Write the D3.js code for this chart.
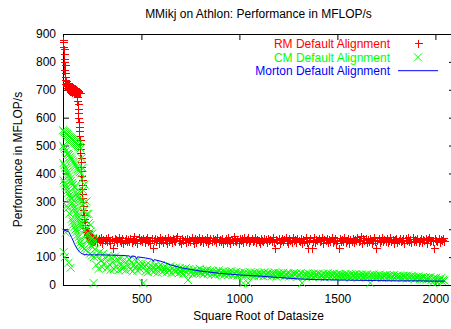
<!DOCTYPE html>
<html>
<head>
<meta charset="utf-8">
<script src="https://cdn.jsdelivr.net/npm/d3@7"></script>
<style>
  html, body { margin: 0; padding: 0; background: #fff; }
  svg { display: block; }
  text { font-family: "Liberation Sans", Arial, Helvetica, sans-serif; }
</style>
</head>
<body>
<svg id="chart" width="451" height="329"></svg>
<script>
// Square root of the matrix data size at each measured run
const sizes = [
  100,101,102,103,104,105,106,107,108,109,
  110,111,112,113,114,115,116,117,118,119,
  120,121,122,123,124,125,126,127,128,129,
  130,131,132,133,134,135,136,137,138,139,
  140,141,142,143,144,145,146,147,148,149,
  150,151,152,153,154,155,156,157,158,159,
  160,161,162,163,164,165,166,167,168,169,
  170,171,172,173,174,175,176,177,178,179,
  180,181,182,183,184,185,186,187,188,189,
  190,191,192,193,194,195,196,197,198,199,
  200,202,204,206,208,210,212,214,216,218,
  220,222,224,226,228,230,232,234,236,238,
  240,242,244,246,248,250,252,254,256,258,
  260,
  264,270,276,282,288,294,300,306,312,318,
  324,330,336,342,348,354,360,366,372,378,
  384,390,396,402,408,414,420,426,432,438,
  444,450,456,462,468,474,480,486,492,498,
  504,510,516,522,528,534,540,546,552,558,
  564,570,576,582,588,594,600,606,612,618,
  624,630,636,642,648,654,660,666,672,678,
  684,690,696,702,708,714,720,726,732,738,
  744,750,756,762,768,774,780,786,792,798,
  804,810,816,822,828,834,840,846,852,858,
  864,870,876,882,888,894,900,906,912,918,
  924,930,936,942,948,954,960,966,972,978,
  984,990,996,1002,1008,1014,1020,1026,1032,1038,
  1044,1050,1056,1062,1068,1074,1080,1086,1092,1098,
  1104,1110,1116,1122,1128,1134,1140,1146,1152,1158,
  1164,1170,1176,1182,1188,1194,1200,1206,1212,1218,
  1224,1230,1236,1242,1248,1254,1260,1266,1272,1278,
  1284,1290,1296,1302,1308,1314,1320,1326,1332,1338,
  1344,1350,1356,1362,1368,1374,1380,1386,1392,1398,
  1404,1410,1416,1422,1428,1434,1440,1446,1452,1458,
  1464,1470,1476,1482,1488,1494,1500,1506,1512,1518,
  1524,1530,1536,1542,1548,1554,1560,1566,1572,1578,
  1584,1590,1596,1602,1608,1614,1620,1626,1632,1638,
  1644,1650,1656,1662,1668,1674,1680,1686,1692,1698,
  1704,1710,1716,1722,1728,1734,1740,1746,1752,1758,
  1764,1770,1776,1782,1788,1794,1800,1806,1812,1818,
  1824,1830,1836,1842,1848,1854,1860,1866,1872,1878,
  1884,1890,1896,1902,1908,1914,1920,1926,1932,1938,
  1944,1950,1956,1962,1968,1974,1980,1986,1992,1998,
  2004,2010,2016,2022,2028,2034,2040,2046
];

// MFLOP/s, row-major layout
const rmValues = [
  880,870,855,800,845,828,770,812,735,760,
  790,722,745,718,730,712,726,720,708,716,
  722,712,705,718,710,724,702,716,706,712,
  700,719,709,698,711,703,715,696,708,712,
  700,694,709,706,698,713,692,702,705,697,
  710,695,703,700,692,707,698,704,690,701,
  696,706,693,699,688,703,697,692,700,694,
  688,675,699,660,648,695,632,615,692,600,
  585,690,568,552,536,688,520,505,488,472,
  456,440,424,408,392,376,360,344,328,312,
  296,282,268,252,238,226,214,205,196,190,
  198,184,178,192,172,186,168,182,164,175,
  160,178,163,158,168,162,156,170,160,166,
  158,
  163,170,155,167,159,173,152,165,161,168,
  156,171,162,150,166,134,158,169,164,153,
  172,160,155,167,151,163,170,157,165,159,
  168,154,162,174,158,166,152,171,160,164,
  157,169,153,165,172,159,163,150,167,133,
  161,170,156,166,152,173,160,164,155,168,
  162,151,171,158,165,154,169,161,157,167,
  174,156,163,152,168,160,166,153,170,159,
  165,157,172,161,150,167,155,164,171,158,
  162,169,154,166,159,173,151,163,168,156,
  170,160,165,153,172,158,164,157,167,152,
  161,168,155,171,163,150,166,159,174,162,
  157,165,152,169,160,167,154,172,158,164,
  171,153,163,168,156,161,173,155,166,159,
  151,167,162,157,170,164,153,169,160,165,
  158,172,154,132,166,161,169,152,163,168,
  156,165,171,159,150,167,162,155,173,160,
  164,153,168,161,157,170,152,166,159,172,
  155,133,163,167,134,158,171,154,165,160,
  169,156,162,173,151,166,160,168,153,164,
  158,171,155,163,167,152,160,133,170,157,
  165,159,172,154,162,168,150,164,158,169,
  153,166,160,171,156,163,174,152,167,161,
  170,155,164,158,168,151,162,173,157,133,
  163,167,153,160,171,156,165,159,169,154,
  161,172,157,166,150,164,170,155,162,168,
  156,163,169,152,167,160,173,158,165,154,
  171,159,164,157,168,153,162,170,155,166,
  160,167,151,165,172,158,163,156,134,169,
  162,157,170,154,166,160,168,158
];

// MFLOP/s, column-major layout
const cmValues = [
  555,499,437,375,118,551,493,429,366,100,
  548,488,421,357,188,544,482,413,348,284,
  541,470,406,339,275,537,471,398,330,80,
  533,466,390,321,256,530,460,382,312,62,
  526,454,374,310,237,523,449,366,295,227,
  519,443,359,286,218,515,439,351,277,208,
  512,432,350,268,199,508,427,335,259,190,
  505,421,327,250,180,501,416,320,241,171,
  497,410,312,232,161,494,405,304,223,152,
  490,399,296,214,142,455,380,285,205,135,
  420,340,265,195,130,360,295,235,178,125,
  300,255,205,160,118,255,222,182,148,112,
  215,192,165,138,106,185,168,148,7,100,
  160,
  128,72,104,58,118,86,64,112,78,96,
  60,106,74,54,98,82,57,102,68,90,
  53,94,72,58,88,64,52,84,70,92,
  56,80,49,72,62,86,51,76,58,68,
  78,7,66,50,74,46,60,71,52,64,
  48,70,56,44,66,59,72,47,62,53,
  65,45,58,51,67,43,60,54,48,63,
  55,42,61,47,58,41,52,60,45,18,
  57,44,50,39,55,47,41,53,46,58,
  43,52,38,49,45,54,40,47,51,39,
  50,42,36,47,44,52,38,45,41,49,
  37,46,43,35,48,40,50,36,44,39,
  47,34,42,38,45,36,7,44,33,41,
  7,39,46,35,42,33,45,37,40,32,
  44,36,41,31,46,38,34,43,37,40,
  32,42,36,45,30,39,43,34,41,37,
  44,31,38,35,42,30,40,36,33,43,
  37,41,29,39,34,43,7,36,31,40,
  33,42,30,38,35,28,41,32,39,36,
  41,29,37,34,40,27,38,32,42,35,
  30,39,33,41,28,36,38,31,40,34,
  37,27,35,40,30,38,33,26,39,32,
  36,29,39,33,27,37,31,38,28,35,
  30,37,27,34,7,36,29,38,32,26,
  35,28,37,31,25,34,30,36,27,33,
  29,35,26,32,36,25,31,34,28,33,
  30,24,33,27,31,23,34,28,26,32,
  25,30,22,28,26,31,21,27,24,29,
  23,27,19,25,22,28,18,8,24,20,
  26,10,21,17,24,14,19,16
];

// Morton-order layout, drawn as a line
const mortonSizes = [100,110,120,128,136,144,152,160,170,180,190,200,215,230,260,300,350,400,
  440,445,450,470,475,480,520,555,560,565,600,650,700,750,800,850,900,1000,1100,1200,1300,
  1400,1500,1600,1700,1800,1900,2000,2048];
const mortonValues = [197,196,193,192,182,170,158,145,132,122,115,111,109,108,108,108,107,106,
  104,96,104,102,92,101,97,92,84,91,85,72,62,56,50,46,42,36,32,27,22,
  19,18,17,16,15,15,14,14];

const xTicks = [500, 1000, 1500, 2000];
const yTicks = [0, 100, 200, 300, 400, 500, 600, 700, 800, 900];

const seriesNames = ["RM Default Alignment", "CM Default Alignment", "Morton Default Alignment"];
const seriesColors = ["#ff0000", "#00ff00", "#0000ff"];

(function draw() {
  const svg = d3.select("#chart");
  const plotLeft = 63, plotRight = 455, plotTop = 34, plotBottom = 285;

  const x = d3.scaleLinear().domain([100, 2100]).range([plotLeft, plotRight]);
  const y = d3.scaleLinear().domain([0, 900]).range([plotBottom, plotTop]);

  const font = '"Liberation Sans", Arial, Helvetica, sans-serif';
  const fmt = d3.format("d");

  // axes with inward ticks, mirrored on top and right
  function styleAxis(g) {
    g.select(".domain").remove();
    g.selectAll(".tick line").attr("stroke", "#000").attr("stroke-width", 1);
    g.selectAll("text").attr("font-family", font).attr("font-size", 12).attr("fill", "#000");
  }

  svg.append("g")
    .attr("transform", `translate(0,${plotBottom})`)
    .call(d3.axisBottom(x).tickValues(xTicks).tickFormat(fmt).tickSize(-6).tickSizeOuter(0).tickPadding(9.5))
    .call(styleAxis);

  svg.append("g")
    .attr("transform", `translate(0,${plotTop})`)
    .call(d3.axisTop(x).tickValues(xTicks).tickSize(-6).tickSizeOuter(0).tickFormat(""))
    .call(styleAxis);

  svg.append("g")
    .attr("transform", `translate(${plotLeft},0)`)
    .call(d3.axisLeft(y).tickValues(yTicks).tickFormat(fmt).tickSize(-6).tickSizeOuter(0).tickPadding(7))
    .call(styleAxis);

  svg.append("g")
    .attr("transform", `translate(${plotRight},0)`)
    .call(d3.axisRight(y).tickValues(yTicks).tickSize(-6).tickSizeOuter(0).tickFormat(""))
    .call(styleAxis);

  // plot border
  svg.append("rect")
    .attr("x", plotLeft + 0.5).attr("y", plotTop + 0.5)
    .attr("width", plotRight - plotLeft).attr("height", plotBottom - plotTop)
    .attr("fill", "none").attr("stroke", "#000").attr("stroke-width", 1);

  const plusPath = "M-4,0H4M0,-4V4";
  const crossPath = "M-4,-4L4,4M-4,4L4,-4";

  const pairs = vals => sizes.map((s, i) => [s, vals[i]]).filter(d => d[1] != null);
  // plus markers sit on pixel centres so their 1px strokes stay crisp
  const snapped = d => `translate(${Math.round(x(d[0])) + 0.5},${Math.round(y(d[1])) + 0.5})`;
  const exact = d => `translate(${x(d[0])},${y(d[1])})`;

  svg.append("g").attr("shape-rendering", "crispEdges").selectAll("path")
    .data(pairs(rmValues)).join("path")
    .attr("d", plusPath)
    .attr("transform", snapped)
    .attr("fill", "none").attr("stroke", seriesColors[0]).attr("stroke-width", 1);

  svg.append("g").selectAll("path")
    .data(pairs(cmValues)).join("path")
    .attr("d", crossPath)
    .attr("transform", exact)
    .attr("fill", "none").attr("stroke", seriesColors[1]).attr("stroke-width", 1);

  const line = d3.line().x(d => x(d[0])).y(d => y(d[1]));
  svg.append("path")
    .datum(mortonSizes.map((s, i) => [s, mortonValues[i]]))
    .attr("d", line)
    .attr("fill", "none").attr("stroke", seriesColors[2]).attr("stroke-width", 1);

  // title and axis labels
  svg.append("text")
    .attr("x", 258.5).attr("y", 18)
    .attr("text-anchor", "middle").attr("font-size", 12).attr("fill", "#000")
    .text("MMikj on Athlon: Performance in MFLOP/s");

  svg.append("text")
    .attr("x", 258.5).attr("y", 320)
    .attr("text-anchor", "middle").attr("font-size", 12).attr("fill", "#000")
    .text("Square Root of Datasize");

  svg.append("text")
    .attr("transform", "translate(22,159.5) rotate(-90)")
    .attr("text-anchor", "middle").attr("font-size", 12).attr("fill", "#000")
    .text("Performance in MFLOP/s");

  // legend
  const legendY = [43.3, 57.3, 70.7];
  const legend = svg.append("g");
  seriesNames.forEach((name, i) => {
    legend.append("text")
      .attr("x", 390).attr("y", legendY[i]).attr("dy", "0.35em")
      .attr("text-anchor", "end").attr("font-size", 12).attr("fill", seriesColors[i])
      .text(name);
  });
  legend.append("path").attr("d", plusPath)
    .attr("shape-rendering", "crispEdges")
    .attr("transform", `translate(418.5,${Math.round(legendY[0]) + 0.5})`)
    .attr("fill", "none").attr("stroke", seriesColors[0]);
  legend.append("path").attr("d", crossPath)
    .attr("transform", `translate(418,${legendY[1]})`)
    .attr("fill", "none").attr("stroke", seriesColors[1]);
  legend.append("line")
    .attr("x1", 398).attr("x2", 438).attr("y1", legendY[2]).attr("y2", legendY[2])
    .attr("stroke", seriesColors[2]).attr("stroke-width", 1);
})();
</script>
</body>
</html>
